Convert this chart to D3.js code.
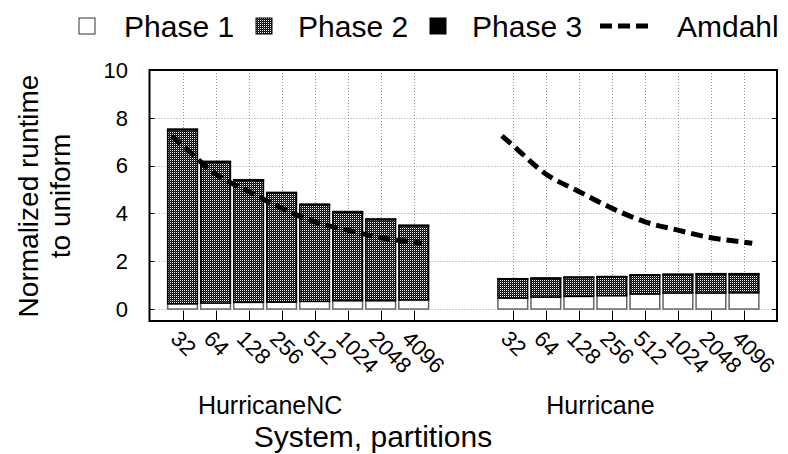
<!DOCTYPE html>
<html>
<head>
<meta charset="utf-8">
<script src="https://cdn.jsdelivr.net/npm/d3@7"></script>
<style>
  html, body { margin: 0; padding: 0; background: #fff; }
  svg { display: block; font-family: "Liberation Sans", Arial, Helvetica, sans-serif; }
</style>
</head>
<body>
<svg id="chart" width="788" height="454"></svg>
<script>
// Partition counts on the x axis, and the two systems compared
const partitions = ["32", "64", "128", "256", "512", "1024", "2048", "4096"];
const systems = ["HurricaneNC", "Hurricane"];

// Normalized runtime per phase (stacked), HurricaneNC
const ncPhase1 = [0.22, 0.25, 0.28, 0.29, 0.32, 0.35, 0.35, 0.38];
const ncPhase2 = [7.28, 5.90, 5.10, 4.56, 4.04, 3.70, 3.39, 3.10];
const ncPhase3 = [0.03, 0.03, 0.03, 0.03, 0.03, 0.03, 0.03, 0.03];

// Normalized runtime per phase (stacked), Hurricane
const hPhase1 = [0.46, 0.50, 0.53, 0.56, 0.63, 0.67, 0.67, 0.68];
const hPhase2 = [0.79, 0.78, 0.79, 0.78, 0.78, 0.77, 0.79, 0.78];
const hPhase3 = [0.02, 0.02, 0.02, 0.02, 0.02, 0.02, 0.02, 0.02];

// Amdahl's-law bound, same curve over both groups
const amdahl = [6.85, 5.65, 4.92, 4.22, 3.65, 3.30, 2.98, 2.80];

const yTicks = [0, 2, 4, 6, 8, 10];
const phaseNames = ["Phase 1", "Phase 2", "Phase 3"];

const svg = d3.select("#chart");

// slot index along x: group 0 at 0..7, group 1 at 10..17
const groupOffset = [0, 10];
const x = d3.scaleLinear().domain([-1, 18]).range([149.5, 777]);
const y = d3.scaleLinear().domain([-0.5, 10]).range([321, 70]);

const plot = { left: x.range()[0], right: x.range()[1], top: y.range()[1], bottom: y.range()[0] };

// dotted dark fill used by Phase 2
const defs = svg.append("defs");
const pat = defs.append("pattern")
  .attr("id", "checker")
  .attr("patternUnits", "userSpaceOnUse")
  .attr("width", 2).attr("height", 2);
pat.append("rect").attr("width", 2).attr("height", 2).attr("fill", "#000");
pat.append("rect").attr("x", 0).attr("y", 0).attr("width", 1).attr("height", 1).attr("fill", "#fff");
pat.append("rect").attr("x", 1).attr("y", 1).attr("width", 1).attr("height", 1).attr("fill", "#3a3a3a");

// grid
const grid = svg.append("g").attr("class", "grid")
  .attr("stroke", "#9a9a9a").attr("stroke-width", 1).attr("stroke-dasharray", "1,2");
yTicks.forEach(t => {
  grid.append("line")
    .attr("x1", plot.left).attr("x2", plot.right)
    .attr("y1", Math.round(y(t)) + 0.5).attr("y2", Math.round(y(t)) + 0.5);
});
const slots = [];
systems.forEach((s, gi) => partitions.forEach((p, i) => slots.push({ g: gi, i, pos: groupOffset[gi] + i, label: p })));
slots.forEach(d => {
  grid.append("line")
    .attr("x1", Math.round(x(d.pos)) + 0.5).attr("x2", Math.round(x(d.pos)) + 0.5)
    .attr("y1", plot.top).attr("y2", plot.bottom);
});

// stacked bars
const series = [
  [ncPhase1, ncPhase2, ncPhase3],
  [hPhase1, hPhase2, hPhase3]
];
const barHalf = 0.45;
const fills = ["#fff", "url(#checker)", "#000"];
const strokes = ["#666", "#000", "#000"];
const bars = svg.append("g").attr("class", "bars");
series.forEach((phases, gi) => {
  partitions.forEach((p, i) => {
    let base = 0;
    phases.forEach((vals, k) => {
      const v = vals[i];
      const pos = groupOffset[gi] + i;
      bars.append("rect")
        .attr("x", x(pos - barHalf))
        .attr("width", x(pos + barHalf) - x(pos - barHalf))
        .attr("y", y(base + v))
        .attr("height", y(base) - y(base + v))
        .attr("fill", fills[k])
        .attr("stroke", strokes[k])
        .attr("stroke-width", 1.5);
      base += v;
    });
  });
});

// Amdahl curve, extended a little past the outer bars of each group
const amdahlLine = d3.line().x(d => x(d[0])).y(d => y(d[1])).curve(d3.curveMonotoneX);
groupOffset.forEach(off => {
  const pts = amdahl.map((v, i) => [off + i, v]);
  const n = amdahl.length;
  const s0 = amdahl[1] - amdahl[0];
  const s1 = amdahl[n - 1] - amdahl[n - 2];
  pts.unshift([off - 0.33, amdahl[0] - 0.33 * s0]);
  pts.push([off + n - 1 + 0.25, amdahl[n - 1] + 0.25 * s1]);
  svg.append("path")
    .attr("d", amdahlLine(pts))
    .attr("fill", "none")
    .attr("stroke", "#000")
    .attr("stroke-width", 5)
    .attr("stroke-dasharray", "12,6");
});

// frame
svg.append("rect")
  .attr("x", plot.left).attr("y", plot.top)
  .attr("width", plot.right - plot.left).attr("height", plot.bottom - plot.top)
  .attr("fill", "none").attr("stroke", "#000").attr("stroke-width", 2);

// x tick marks (inward)
slots.forEach(d => {
  svg.append("line")
    .attr("x1", Math.round(x(d.pos)) + 0.5).attr("x2", Math.round(x(d.pos)) + 0.5)
    .attr("y1", plot.bottom).attr("y2", plot.bottom - 10)
    .attr("stroke", "#000").attr("stroke-width", 1);
});
// y tick marks, both sides
yTicks.forEach(t => {
  [[plot.left, plot.left + 5], [plot.right, plot.right - 5]].forEach(([a, b]) => {
    svg.append("line")
      .attr("x1", a).attr("x2", b)
      .attr("y1", Math.round(y(t)) + 0.5).attr("y2", Math.round(y(t)) + 0.5)
      .attr("stroke", "#000").attr("stroke-width", 1);
  });
});

// y tick labels
svg.append("g").selectAll("text").data(yTicks).join("text")
  .attr("x", 128).attr("y", d => y(d)).attr("dy", "0.35em")
  .attr("text-anchor", "end").attr("font-size", 22).text(d => d);

// x tick labels, rotated
svg.append("g").selectAll("text").data(slots).join("text")
  .attr("transform", d => `translate(${x(d.pos) - 13},340) rotate(45)`)
  .attr("font-size", 22).text(d => d.label);

// group labels
systems.forEach((s, gi) => {
  svg.append("text")
    .attr("x", x(groupOffset[gi] + 3.5) - 28).attr("y", 414)
    .attr("text-anchor", "middle").attr("font-size", 25).text(s);
});

// axis titles
svg.append("text").attr("x", 373).attr("y", 447)
  .attr("text-anchor", "middle").attr("font-size", 30).text("System, partitions");
const yTitle = svg.append("text")
  .attr("transform", "translate(38,196) rotate(-90)")
  .attr("text-anchor", "middle").attr("font-size", 28);
yTitle.append("tspan").attr("x", 0).attr("y", 0).text("Normalized runtime");
yTitle.append("tspan").attr("x", 0).attr("y", 32).text("to uniform");

// legend
const legend = svg.append("g").attr("font-size", 30);
const boxX = [79, 256, 430];
const textX = [124, 298, 472];
phaseNames.forEach((nm, k) => {
  legend.append("rect")
    .attr("x", boxX[k]).attr("y", 18).attr("width", 16).attr("height", 16)
    .attr("fill", fills[k]).attr("stroke", k === 0 ? "#333" : "#000").attr("stroke-width", 1);
  legend.append("text").attr("x", textX[k]).attr("y", 37).text(nm);
});
legend.append("line")
  .attr("x1", 600).attr("x2", 650).attr("y1", 26).attr("y2", 26)
  .attr("stroke", "#000").attr("stroke-width", 5).attr("stroke-dasharray", "12,6");
legend.append("text").attr("x", 677).attr("y", 37).text("Amdahl");
</script>
</body>
</html>
